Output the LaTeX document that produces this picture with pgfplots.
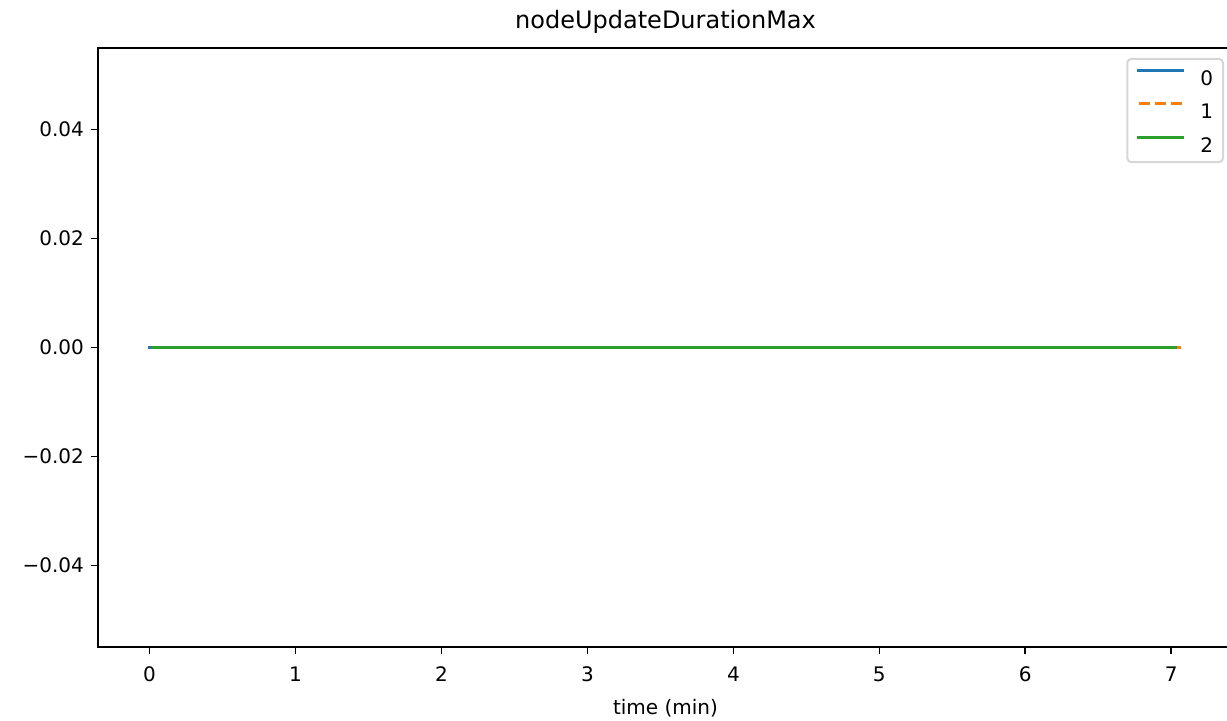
\documentclass[border=0pt]{standalone}
\usepackage{pgfplots}
\pgfplotsset{compat=1.18}
\usepackage{fontspec}
\setmainfont{DejaVu Sans}

\definecolor{mplblue}{HTML}{1F77B4}
\definecolor{mplorange}{HTML}{FF7F0E}
\definecolor{mplgreen}{HTML}{2CA02C}
\definecolor{legframe}{HTML}{D6D6D6}

\begin{document}
\begin{tikzpicture}
\begin{axis}[
    at={(0pt,0pt)}, anchor=south west,
    scale only axis,
    width=567.5pt, height=299.5pt,
    xmin=-0.3535, xmax=7.4235,
    ymin=-0.055, ymax=0.055,
    scaled y ticks=false,
    axis line style={line width=0.8pt, black},
    tick align=outside,
    major tick length=3.5pt,
    tick style={line width=0.8pt, black},
    xtick={0,1,2,3,4,5,6,7},
    xticklabels={0,1,2,3,4,5,6,7},
    ytick={-0.04,-0.02,0,0.02,0.04},
    yticklabels={−0.04,−0.02,0.00,0.02,0.04},
    xtick pos=bottom, ytick pos=left,
    ticklabel style={font=\fontsize{10}{12}\selectfont},
    xticklabel style={yshift=-3pt},
    every axis title shift=0pt,
    title={nodeUpdateDurationMax},
    title style={font=\fontsize{12}{14}\selectfont, at={(axis description cs:0.5,1)}, anchor=base, yshift=9.5pt},
    xlabel={time (min)},
    xlabel style={font=\fontsize{10}{12}\selectfont, at={(axis description cs:0.5,0)}, anchor=base, yshift=-34pt},
    legend style={at={(rel axis cs:1,1)}, anchor=north east, xshift=-4.5pt, yshift=-5pt,
        draw=legframe, line width=1pt, rounded corners=2pt, fill=white, fill opacity=0.8, text opacity=1,
        font=\fontsize{10}{12}\selectfont,
        inner xsep=5pt, inner ysep=5pt, row sep=8.7pt, column sep=8pt,
        nodes={inner sep=0pt, text height=7.3pt, text depth=0pt}},
    legend cell align=left,
    legend image code/.code={\draw[#1, line width=1.5pt] (0pt,3.65pt) -- (22pt,3.65pt);},
]
\addplot[mplblue, line width=1.5pt, line cap=rect] coordinates {(0,0) (7.02,0)};
\addlegendentry{0}
\addplot[mplorange, line width=1.5pt, dash pattern=on 5.55pt off 2.4pt] coordinates {(0.03,0) (7.07,0)};
\addlegendentry{1}
\addplot[mplgreen, line width=1.5pt, line cap=rect] coordinates {(0.02,0) (7.03,0)};
\addlegendentry{2}
\end{axis}
\pgfresetboundingbox
\path[use as bounding box] (-49pt,-37pt) rectangle (564.5pt,323.5pt);
\end{tikzpicture}
\end{document}
